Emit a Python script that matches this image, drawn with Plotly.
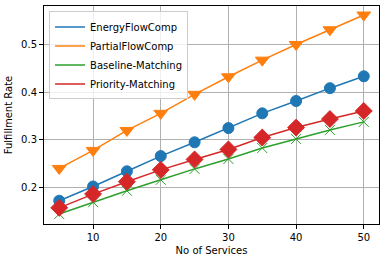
import plotly.graph_objects as go

services = [5, 10, 15, 20, 25, 30, 35, 40, 45, 50]
energy_flow = [0.172, 0.202, 0.234, 0.266, 0.295, 0.325, 0.356, 0.382, 0.409, 0.434]
partial_flow = [0.240, 0.278, 0.320, 0.356, 0.396, 0.433, 0.468, 0.501, 0.532, 0.563]
baseline = [0.144, 0.169, 0.193, 0.216, 0.239, 0.260, 0.283, 0.302, 0.321, 0.338]
priority = [0.157, 0.186, 0.212, 0.237, 0.259, 0.280, 0.305, 0.326, 0.344, 0.361]

series = [
    ("EnergyFlowComp", energy_flow, "#1f77b4", "circle", 11),
    ("PartialFlowComp", partial_flow, "#ff7f0e", "triangle-down", 12),
    ("Baseline-Matching", baseline, "#2ca02c", "x-thin-open", 10),
    ("Priority-Matching", priority, "#d62728", "diamond", 13),
]

fig = go.Figure()
for name, vals, color, sym, size in series:
    fig.add_trace(go.Scatter(x=services, y=vals, mode="lines", name=name,
                             line=dict(color=color, width=1.5)))
for name, vals, color, sym, size in series:
    fig.add_trace(go.Scatter(x=services, y=vals, mode="markers", showlegend=False,
                             marker=dict(symbol=sym, size=size, color=color,
                                         line=dict(color=color, width=1))))

axis_common = dict(showline=True, linecolor="black", linewidth=1, mirror=True,
                   ticks="outside", ticklen=4, tickcolor="black",
                   showgrid=True, gridcolor="#b0b0b0", gridwidth=1, zeroline=False,
                   automargin=False,
                   tickfont=dict(family="DejaVu Sans", size=10, color="black"))

fig.update_layout(
    width=386, height=262,
    margin=dict(l=44, r=7, t=6, b=38),
    paper_bgcolor="white", plot_bgcolor="white",
    font=dict(family="DejaVu Sans", size=10, color="black"),
    xaxis=dict(range=[2.75, 52.25], tickvals=[10, 20, 30, 40, 50],
               title=dict(text="No of Services", font=dict(size=10), standoff=4),
               **axis_common),
    yaxis=dict(range=[0.123, 0.582], tickvals=[0.2, 0.3, 0.4, 0.5],
               tickformat=".1f",
               title=dict(text="Fulfillment Rate", font=dict(size=10), standoff=6),
               **axis_common),
    legend=dict(x=0.015, y=0.975, xanchor="left", yanchor="top",
                bgcolor="rgba(255,255,255,0.8)", bordercolor="#cccccc", borderwidth=1,
                font=dict(size=10), tracegroupgap=0, itemwidth=30),
)

fig.write_html("out.html", config={"displayModeBar": False},
               post_script="document.body.style.margin='0';")
